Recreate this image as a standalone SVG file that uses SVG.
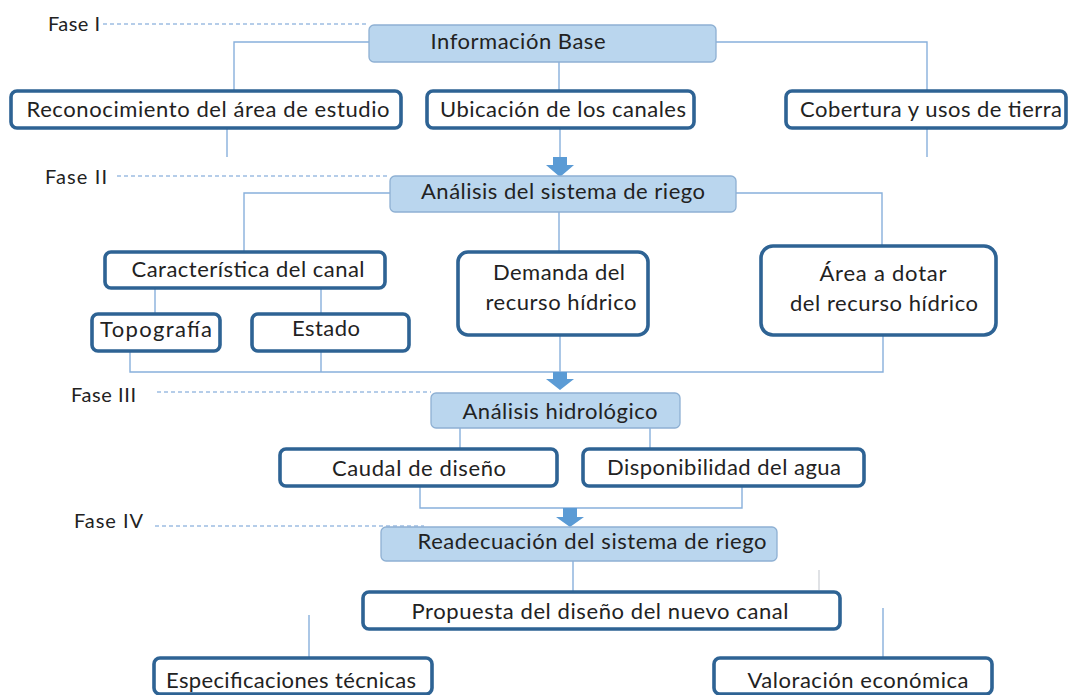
<svg xmlns="http://www.w3.org/2000/svg" width="1068" height="695" viewBox="0 0 1068 695">
<defs>
<style>
.t{font-family:Lato,"Open Sans","Liberation Sans",sans-serif;font-size:22px;fill:#222;text-anchor:middle}
.f{font-family:Lato,"Open Sans","Liberation Sans",sans-serif;font-size:20px;fill:#222}
.b{fill:#fff;stroke:#2e6394;stroke-width:3.6}
.h{fill:#bad6ee;stroke:#8eb0d3;stroke-width:1.3}
.c{fill:none;stroke:#88b0dc;stroke-width:1.4}
.d{fill:none;stroke:#9dbde2;stroke-width:1.3;stroke-dasharray:4 3}
.g{fill:none;stroke:#cfd3d8;stroke-width:1.3}
.a{fill:#5b9bd5}
</style>
</defs>
<rect width="1068" height="695" fill="#fff"/>
<g id="connectors">
<path class="d" d="M103 24H369M117 176H390M157 392H431M155 526H424"/>
<path class="c" d="M369 42H234V91M716 42H927V91M559 62V91M227 128V157M927 128V157M560 128V158"/>
<path class="c" d="M390 193H244V252M736 193H882V246M559 212V252M155 288V314M321 288V314"/>
<path class="c" d="M130 351V372H883V335M321 351V372M560 335V373"/>
<path class="c" d="M460 428V449M650 428V449M420 486V508H742V486M573 561V592M309 615V658M883 608V658"/>
<path class="g" d="M819 570V590"/>
<polygon class="a" points="553,157 567,157 567,165 574,165 560,177 546,165 553,165"/>
<polygon class="a" points="553,372 567,372 567,379 574,379 560,390 546,379 553,379"/>
<polygon class="a" points="563,508 577,508 577,517 584,517 570,527 556,517 563,517"/>
</g>
<g id="fases">
<text class="f" x="48" y="31" textLength="52">Fase I</text>
<text class="f" x="45" y="184" textLength="62">Fase II</text>
<text class="f" x="71" y="402" textLength="65">Fase III</text>
<text class="f" x="74" y="528" textLength="69">Fase IV</text>
</g>
<g id="informacion-base"><rect class="h" x="369" y="25" width="347" height="37" rx="5"/><text class="t" x="518" y="49" textLength="175">Información Base</text></g>
<g id="reconocimiento"><rect class="b" x="11" y="91" width="390" height="37" rx="6"/><text class="t" x="208" y="117" textLength="363">Reconocimiento del área de estudio</text></g>
<g id="ubicacion"><rect class="b" x="427" y="91" width="267" height="37" rx="6"/><text class="t" x="563" y="117" textLength="246">Ubicación de los canales</text></g>
<g id="cobertura"><rect class="b" x="786" y="91" width="280" height="37" rx="6"/><text class="t" x="931" y="117" textLength="262">Cobertura y usos de tierra</text></g>
<g id="analisis-sistema"><rect class="h" x="390" y="176" width="346" height="36" rx="5"/><text class="t" x="563" y="199" textLength="284">Análisis del sistema de riego</text></g>
<g id="caracteristica"><rect class="b" x="105" y="252" width="280" height="36" rx="6"/><text class="t" x="248" y="277" textLength="233">Característica del canal</text></g>
<g id="topografia"><rect class="b" x="92" y="314" width="128" height="37" rx="6"/><text class="t" x="156" y="337" textLength="112">Topografía</text></g>
<g id="estado"><rect class="b" x="252" y="314" width="157" height="37" rx="6"/><text class="t" x="326" y="336" textLength="68">Estado</text></g>
<g id="demanda"><rect class="b" x="458" y="252" width="190" height="83" rx="10"/><text class="t" x="559" y="280" textLength="132">Demanda del</text><text class="t" x="561" y="310" textLength="151">recurso hídrico</text></g>
<g id="area"><rect class="b" x="761" y="246" width="235" height="89" rx="12"/><text class="t" x="883" y="281" textLength="127">Área a dotar</text><text class="t" x="884" y="311" textLength="188">del recurso hídrico</text></g>
<g id="analisis-hidrologico"><rect class="h" x="431" y="393" width="249" height="35" rx="5"/><text class="t" x="560" y="419" textLength="195">Análisis hidrológico</text></g>
<g id="caudal"><rect class="b" x="280" y="449" width="277" height="37" rx="6"/><text class="t" x="419" y="476" textLength="174">Caudal de diseño</text></g>
<g id="disponibilidad"><rect class="b" x="583" y="449" width="281" height="37" rx="6"/><text class="t" x="724" y="475" textLength="234">Disponibilidad del agua</text></g>
<g id="readecuacion"><rect class="h" x="381" y="527" width="396" height="34" rx="5"/><text class="t" x="592" y="549" textLength="349">Readecuación del sistema de riego</text></g>
<g id="propuesta"><rect class="b" x="363" y="592" width="477" height="37" rx="6"/><text class="t" x="600" y="619" textLength="377">Propuesta del diseño del nuevo canal</text></g>
<g id="especificaciones"><rect class="b" x="154" y="658" width="278" height="36" rx="6"/><text class="t" x="291" y="688" textLength="250">Especificaciones técnicas</text></g>
<g id="valoracion"><rect class="b" x="714" y="658" width="278" height="36" rx="6"/><text class="t" x="858" y="688" textLength="221">Valoración económica</text></g>
</svg>
